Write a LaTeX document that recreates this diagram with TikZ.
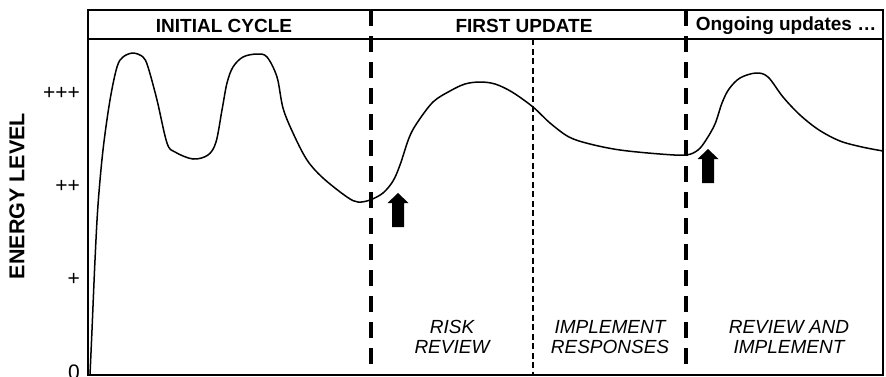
\documentclass[tikz,border=0pt]{standalone}
\usepackage{fontspec}
\setmainfont{Liberation Sans}

\tikzset{
	frameline/.style={line width=1.8pt},
	phaseline/.style={line width=4pt, dash pattern=on 16pt off 10pt},
	subline/.style={line width=1.3pt, dash pattern=on 6pt off 3.5pt},
	header/.style={font=\bfseries\fontsize{19}{22}\selectfont},
	task/.style={font=\itshape\fontsize{19}{20}\selectfont, align=center},
	level/.style={font=\fontsize{21}{24}\selectfont, anchor=east, inner sep=1pt},
	% block arrow pointing up, centred on its midpoint
	riser/.pic={\fill (-6,17) -- (-6,-7) -- (-10.5,-7) -- (0,-17) -- (10.5,-7) -- (6,-7) -- (6,17) -- cycle;},
}

\begin{document}
\begin{tikzpicture}[x=1pt, y=-1pt]
	\useasboundingbox (0,0) rectangle (886,376);

		% frame with the header band
		\draw[frameline] (88,10) rectangle (883,375);
		\draw[frameline] (88,39) -- (883,39);

		\node[header] (initial) at (224,26) {INITIAL CYCLE};
		\node[header] (first) at (524,26) {FIRST UPDATE};
		\node[header] (ongoing) at (786,26) {Ongoing updates …};

		% phase boundaries
		\draw[phaseline] (371,10) -- (371,375);
		\draw[phaseline] (686,10) -- (686,375);
		\draw[subline] (533,39) -- (533,375);

		% energy axis
		\node[rotate=90, font=\bfseries\fontsize{21.5}{24}\selectfont] (energy) at (17,196) {ENERGY LEVEL};
		\node[level] (l3) at (81,93) {+++};
		\node[level] (l2) at (81,186) {++};
		\node[level] (l1) at (81,279) {+};
		\node[level] (l0) at (81,372) {0};

		% energy curve
		\draw[line width=1.5pt, line join=round] plot[smooth, tension=0.55] coordinates {
			(90,375) (92,330) (95,260) (98,205) (103,150) (110,100) (117,67) (123,57) (133,53)
			(143,57) (148,67) (157,100) (167,143) (175,152) (193,159) (208,155) (216,142)
			(222,110) (227,83) (233,67) (243,57) (257,54) (267,57) (277,77) (283,108)
			(293,133) (307,160) (323,178) (347,197) (358,202) (370,200) (383,193) (393,181)
			(400,165) (409,138) (417,123) (433,102) (450,91) (465,84) (480,82) (495,84)
			(512,92) (533,107) (550,123) (569,137) (590,144) (620,150) (660,154) (686,155)
			(698,150) (706,140) (715,124) (722,103) (729,89) (740,78) (756,73) (768,77)
			(783,97) (800,115) (819,130) (840,141) (862,147) (883,151)};

		\pic at (398,210) {riser};
		\pic at (708,166) {riser};

		% tasks under each phase
		\node[task] (risk) at (452,337) {RISK\\REVIEW};
		\node[task] (respond) at (610,337) {IMPLEMENT\\RESPONSES};
		\node[task] (review) at (789,337) {REVIEW AND\\IMPLEMENT};

\end{tikzpicture}
\end{document}
